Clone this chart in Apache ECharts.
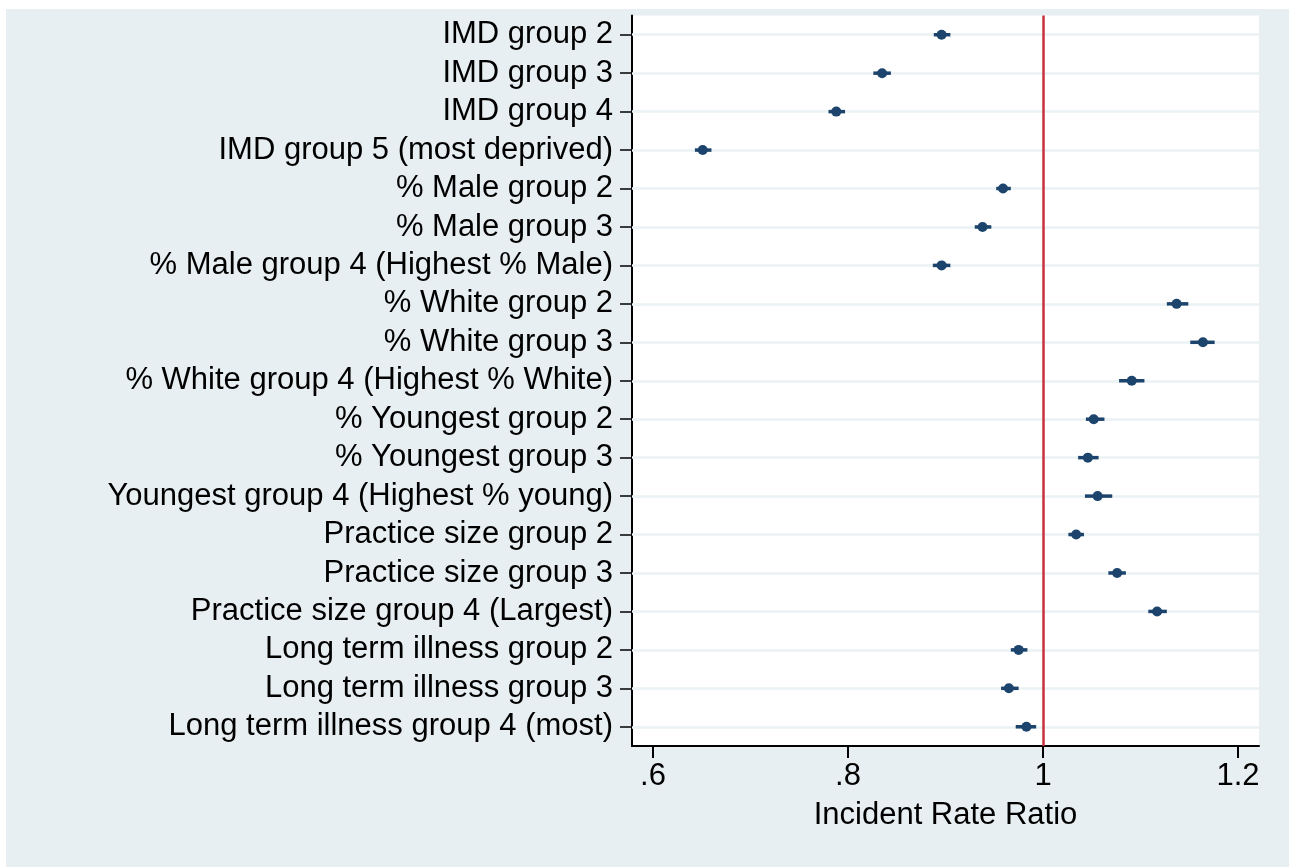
<!DOCTYPE html>
<html>
<head>
<meta charset="utf-8">
<script src="https://cdn.jsdelivr.net/npm/echarts@6/dist/echarts.min.js"></script>
<style>
html,body{margin:0;padding:0;background:#ffffff;width:1289px;height:867px;overflow:hidden;}
#chart{position:absolute;left:6px;top:9px;width:1283px;height:858px;}
</style>
</head>
<body>
<div id="chart"></div>
<script>
const categories = [
  "IMD group 2",
  "IMD group 3",
  "IMD group 4",
  "IMD group 5 (most deprived)",
  "% Male group 2",
  "% Male group 3",
  "% Male group 4 (Highest % Male)",
  "% White group 2",
  "% White group 3",
  "% White group 4 (Highest % White)",
  "% Youngest group 2",
  "% Youngest group 3",
  "Youngest group 4 (Highest % young)",
  "Practice size group 2",
  "Practice size group 3",
  "Practice size group 4 (Largest)",
  "Long term illness group 2",
  "Long term illness group 3",
  "Long term illness group 4 (most)"
];
const estimates = [0.896, 0.835, 0.788, 0.651, 0.959, 0.938, 0.896, 1.137, 1.164, 1.091, 1.052, 1.046, 1.056, 1.034, 1.076, 1.117, 0.975, 0.965, 0.983];
const lowerCI   = [0.888, 0.826, 0.780, 0.643, 0.952, 0.930, 0.887, 1.127, 1.151, 1.078, 1.044, 1.036, 1.043, 1.026, 1.067, 1.108, 0.967, 0.957, 0.972];
const upperCI   = [0.905, 0.844, 0.797, 0.660, 0.967, 0.947, 0.905, 1.149, 1.176, 1.104, 1.063, 1.057, 1.071, 1.042, 1.085, 1.127, 0.984, 0.975, 0.993];
const xTickValues = [0.6, 0.8, 1.0, 1.2];
const xTickLabels = [".6", ".8", "1", "1.2"];
const referenceValue = 1;
const xAxisTitle = "Incident Rate Ratio";

const FONT = "'Liberation Sans', Arial, Helvetica, sans-serif";
const NAVY = "#1c446c";

const chart = echarts.init(document.getElementById('chart'), null, {renderer: 'canvas'});

const seriesData = categories.map((c, i) => [i, estimates[i], lowerCI[i], upperCI[i]]);

const option = {
  backgroundColor: '#e8eff2',
  animation: false,
  grid: {
    left: 626, top: 6.5, right: 30, bottom: 121,
    show: true, backgroundColor: '#ffffff', borderWidth: 0,
    containLabel: false
  },
  xAxis: {
    type: 'value',
    min: 0.5785,
    max: 1.2215,
    name: xAxisTitle,
    nameLocation: 'middle',
    nameGap: 54,
    nameTextStyle: {fontFamily: FONT, fontSize: 31, color: '#000'},
    axisLine: {show: true, onZero: false, lineStyle: {color: '#000', width: 2}},
    axisTick: {show: true, length: 12, lineStyle: {color: '#000', width: 2}, customValues: xTickValues},
    axisLabel: {
      fontFamily: FONT, fontSize: 31, color: '#000', margin: 15,
      customValues: xTickValues,
      formatter: v => {
        const k = xTickValues.findIndex(t => Math.abs(t - v) < 1e-6);
        return k >= 0 ? xTickLabels[k] : '';
      }
    },
    splitLine: {show: false}
  },
  yAxis: {
    type: 'category',
    data: categories,
    inverse: true,
    boundaryGap: true,
    axisLine: {show: true, lineStyle: {color: '#000', width: 2}},
    axisTick: {show: true, alignWithLabel: true, length: 12, lineStyle: {color: '#000', width: 1.5}},
    axisLabel: {fontFamily: FONT, fontSize: 31, color: '#000', margin: 19, interval: 0},
    splitLine: {show: false}
  },
  series: [
    {
      type: 'custom',
      z: 1,
      silent: true,
      data: [],
      renderItem: () => null,
      markLine: {
        silent: true,
        symbol: ['none', 'none'],
        label: {show: false},
        lineStyle: {color: '#eaf2f3', width: 2.5, type: 'solid'},
        data: categories.map(c => ({yAxis: c}))
      }
    },
    {
      type: 'custom',
      z: 2,
      silent: true,
      data: [],
      renderItem: () => null,
      markLine: {
        silent: true,
        symbol: ['none', 'none'],
        label: {show: false},
        lineStyle: {color: '#c8303f', width: 2.5, type: 'solid'},
        data: [{xAxis: referenceValue}]
      }
    },
    {
      type: 'custom',
      z: 5,
      data: seriesData,
      encode: {x: [1, 2, 3], y: 0},
      renderItem: function (params, api) {
        const idx = api.value(0);
        const p = api.coord([api.value(1), idx]);
        const a = api.coord([api.value(2), idx]);
        const b = api.coord([api.value(3), idx]);
        return {
          type: 'group',
          children: [
            {type: 'line', shape: {x1: a[0], y1: a[1], x2: b[0], y2: b[1]},
             style: {stroke: NAVY, lineWidth: 3.5}},
            {type: 'circle', shape: {cx: p[0], cy: p[1], r: 5},
             style: {fill: NAVY}}
          ]
        };
      }
    }
  ]
};
chart.setOption(option);
</script>
</body>
</html>
